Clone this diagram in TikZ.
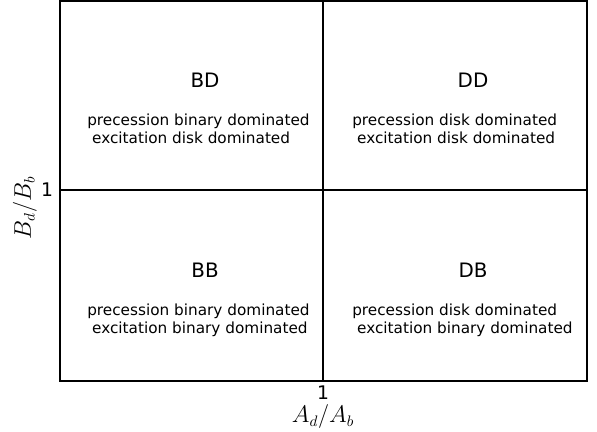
\documentclass[tikz,border=0pt]{standalone}
\usepackage{fontspec}
\setmainfont{DejaVu Sans}
\usepackage{tikz}
\usetikzlibrary{positioning, calc}

\begin{document}
\begin{tikzpicture}[x=0.72pt, y=-0.72pt]

    % Styles
    \tikzset{frame/.style={draw=black, line width = 0.8pt}}
    \tikzset{quad/.style={font = \fontsize{14.3}{17}\selectfont}}
    \tikzset{desc/.style={anchor = north west, align = left, inner sep = 0pt, font = \fontsize{11}{12.8}\selectfont}}
    \tikzset{tick/.style={font = \fontsize{13.5}{15}\selectfont, inner sep = 0pt}}
    \tikzset{axl/.style={font = \fontsize{16}{19}\selectfont, inner sep = 0pt}}

    % Canvas
    \useasboundingbox (0, 0) rectangle (597, 431);

    % Corners of the frame
    \coordinate (tl) at (60, 1);
    \coordinate (br) at (587, 381);
    \coordinate (mt) at (323, 1);
    \coordinate (mb) at (323, 381);
    \coordinate (ml) at (60, 190);
    \coordinate (mr) at (587, 190);

    % Frame and dividing lines
    \draw[frame] (tl) rectangle (br);
    \draw[frame] (mt) -- (mb);
    \draw[frame] (ml) -- (mr);

    % Quadrant titles
    \node (bd) [quad] at (205, 80) {BD};
    \node (dd) [quad] at (473, 80) {DD};
    \node (bb) [quad] at (205, 270) {BB};
    \node (db) [quad] at (473, 270) {DB};

    % Quadrant descriptions
    \node (tBD) [desc] at (87, 114) {precession binary dominated\\\hphantom{ }excitation disk dominated};
    \node (tDD) [desc] at (352, 114) {precession disk dominated\\\hphantom{ }excitation disk dominated};
    \node (tBB) [desc] at (87, 304) {precession binary dominated\\\hphantom{ }excitation binary dominated};
    \node (tDB) [desc] at (352, 304) {precession disk dominated\\\hphantom{ }excitation binary dominated};

    % Axis ticks and labels
    \node (xone) [tick] at (323, 393) {1};
    \node (xlab) [axl, below = 3pt of xone] {$A_d/A_b$};
    \node (yone) [tick] at (47, 190) {1};
    \node (ylab) [axl, rotate = 90] at (25, 208) {$B_d/B_b$};

\end{tikzpicture}
\end{document}
